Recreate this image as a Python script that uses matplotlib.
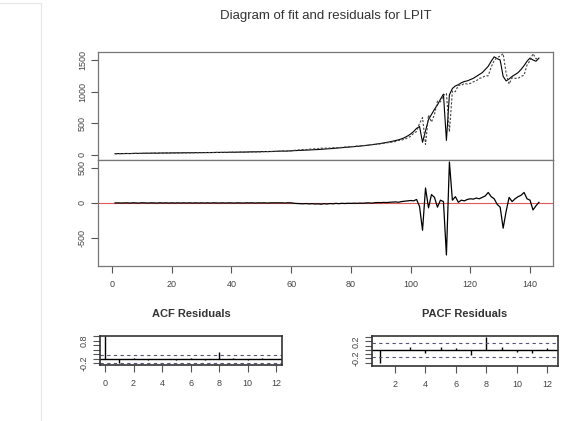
import numpy as np
import matplotlib.pyplot as plt
from matplotlib.lines import Line2D

plt.rcParams['font.family'] = ['Liberation Sans', 'DejaVu Sans']

# Serie observada (LPIT) e residuos do ajuste
t = np.arange(1, 144)
observed = [
    20, 22, 21, 23, 24, 22, 25, 26, 24, 27, 28, 27, 29, 30, 28, 31, 30, 32, 31, 33,
    32, 34, 33, 35, 34, 36, 35, 37, 36, 38, 37, 39, 38, 40, 41, 40, 42, 41, 43, 44,
    43, 45, 46, 45, 47, 48, 50, 49, 51, 52, 54, 53, 55, 57, 58, 60, 62, 61, 64, 66,
    68, 70, 72, 74, 76, 79, 82, 84, 86, 90, 93, 96, 100, 103, 107, 110, 114, 118, 122, 127,
    131, 136, 140, 145, 150, 156, 162, 168, 175, 182, 190, 198, 207, 217, 228, 240, 255, 275, 300, 330,
    370, 420, 450, 200, 380, 560, 640, 720, 790, 880, 960, 230, 950, 1050, 1090, 1110, 1140, 1160, 1170, 1190,
    1210, 1240, 1270, 1300, 1350, 1400, 1480, 1550, 1520, 1500, 1240, 1170, 1200, 1240, 1270, 1300, 1350, 1410,
    1480, 1530, 1500, 1480, 1530,
]
residuals = [
    0, 2, -1, 1, 2, -2, 3, 1, -2, 3, 1, -1, 2, 1, -2, 3, -1, 2, -1, 2,
    -1, 2, -1, 2, -1, 2, -1, 2, -1, 2, -1, 2, -1, 2, 1, -1, 2, -1, 2, 1,
    -1, 2, 1, -1, 2, 1, 2, -1, 2, 1, 2, -1, 2, 2, 1, 2, 2, -1, 3, 2,
    -5, -8, -10, -12, -8, -14, -10, -15, -12, -18, -10, -15, -8, -12, -6, -10, -5, -8, -4, -6,
    -3, -5, -2, -4, 0, 2, -3, 4, 6, 5, 8, 6, 10, 12, 15, 10, 20, 25, 30, 35,
    30, 50, -50, -390, 214, -70, 120, 80, -60, 40, 20, -743, 585, 40, 90, 10, 40, 30, 50, 60,
    55, 70, 60, 80, 100, 150, 90, 60, -20, -60, -360, -120, 80, 20, 60, 90, 110, 150,
    60, 40, -100, -40, 10,
]
fitted = np.array(observed) - np.array(residuals)

acf_lags = np.arange(0, 13)
acf_vals = [1.0, -0.16, 0.02, -0.03, 0.01, -0.04, 0.03, -0.05, 0.30, 0.04, -0.03, 0.02, -0.02]
pacf_lags = np.arange(1, 13)
pacf_vals = [-0.31, 0.01, 0.07, -0.08, 0.08, 0.05, -0.12, 0.31, 0.08, -0.04, -0.08, 0.04]
conf = 0.167

fig = plt.figure(figsize=(5.72, 4.21), dpi=100)


def r_style(ax, lab_size=6.5):
    for s in ax.spines.values():
        s.set_color('#777777')
        s.set_linewidth(0.9)
    ax.tick_params(length=5, width=0.8, color='#555555', labelsize=lab_size,
                   labelcolor='#444444', pad=3)


# Painel do ajuste
ax1 = fig.add_axes([0.1713, 0.6200, 0.7955, 0.2565])
ax1.plot(t, observed, color='black', lw=0.8)
ax1.plot(t, fitted, color='#444444', lw=0.8, ls=(0, (2, 1.5)))
ax1.set_xlim(-4.7, 147.7)
ax1.set_ylim(-79, 1626)
ax1.set_xticks([])
ax1.set_yticks([0, 500, 1000, 1500])
ax1.set_yticklabels(['0', '500', '1000', '1500'], rotation=90, va='center')
r_style(ax1)
ax1.set_title('Diagram of fit and residuals for LPIT', fontsize=9.5, color='#333333', pad=24)

# Painel dos residuos
ax2 = fig.add_axes([0.1713, 0.3682, 0.7955, 0.2518])
ax2.axhline(0, color='#e05a5a', lw=0.8)
ax2.plot(t, residuals, color='black', lw=0.9)
ax2.set_xlim(-4.7, 147.7)
ax2.set_ylim(-900, 614)
ax2.set_xticks(np.arange(0, 141, 20))
ax2.set_yticks([-500, 0, 500])
ax2.set_yticklabels(['-500', '0', '500'], rotation=90, va='center')
r_style(ax2)
ax2.tick_params(axis='x', pad=5)

# ACF dos residuos
ax3 = fig.add_axes([0.1748, 0.1330, 0.3182, 0.0689])
ax3.axhline(0, color='black', lw=1.0)
ax3.vlines(acf_lags, 0, acf_vals, color='black', lw=1.0)
ax3.axhline(conf, color='#555577', lw=0.8, ls=(0, (3, 3)))
ax3.axhline(-conf, color='#555577', lw=0.8, ls=(0, (3, 3)))
ax3.set_xlim(-0.35, 12.4)
ax3.set_ylim(-0.27, 1.02)
ax3.set_xticks(np.arange(0, 13, 2))
ax3.set_yticks(np.arange(-0.2, 1.01, 0.2))
ax3.set_yticklabels(['-0.2', '', '', '', '', '0.8', ''], rotation=90, va='center')
r_style(ax3)
for s in ax3.spines.values():
    s.set_color('#333333')
    s.set_linewidth(1.2)
ax3.tick_params(axis='x', pad=5)
ax3.set_title('ACF Residuals', fontsize=8, fontweight='bold', color='#333333', pad=14)

# PACF dos residuos
ax4 = fig.add_axes([0.6503, 0.1306, 0.3252, 0.0713])
ax4.axhline(0, color='black', lw=1.0)
ax4.vlines(pacf_lags, 0, pacf_vals, color='black', lw=1.0)
ax4.axhline(conf, color='#555577', lw=0.8, ls=(0, (3, 3)))
ax4.axhline(-conf, color='#555577', lw=0.8, ls=(0, (3, 3)))
ax4.set_xlim(0.49, 12.69)
ax4.set_ylim(-0.38, 0.33)
ax4.set_xticks(np.arange(2, 13, 2))
ax4.set_yticks(np.arange(-0.3, 0.31, 0.1))
ax4.set_yticklabels(['', '-0.2', '', '', '', '0.2', ''], rotation=90, va='center')
r_style(ax4)
for s in ax4.spines.values():
    s.set_color('#333333')
    s.set_linewidth(1.2)
ax4.tick_params(axis='x', pad=5)
ax4.set_title('PACF Residuals', fontsize=8, fontweight='bold', color='#333333', pad=14)

# moldura clara da captura
fig.add_artist(Line2D([0.072, 0.072], [0.0, 0.99], color='#e6e6e6', lw=0.8))
fig.add_artist(Line2D([0.0, 0.072], [0.993, 0.993], color='#e6e6e6', lw=0.8))

fig.savefig('out.png', dpi=100)
